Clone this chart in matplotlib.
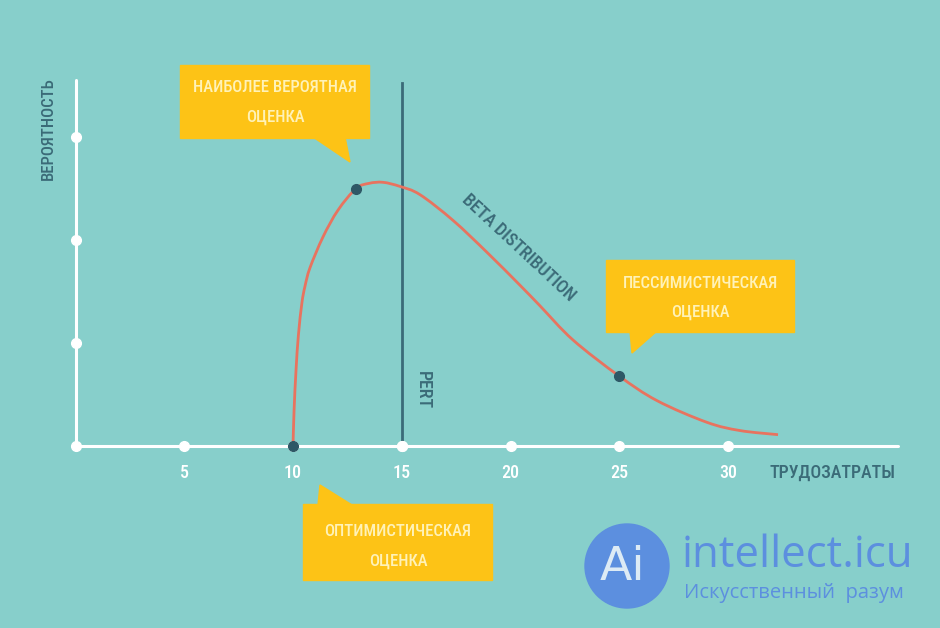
import matplotlib
matplotlib.use("Agg")
import matplotlib.pyplot as plt
from matplotlib.patches import Polygon, Circle, PathPatch
from matplotlib.path import Path
from matplotlib.transforms import IdentityTransform
from matplotlib import font_manager

# data
curve_x = [10.0, 10.05, 10.14, 10.25, 10.41, 10.55, 10.78, 11.38, 12.07, 12.9, 13.5, 14.14,
           14.92, 15.84, 17.36, 18.92, 20.44, 21.36, 22.87, 24.99, 26.74, 29.03, 30.55, 32.3]
curve_y = [0.0, 0.35, 0.74, 1.08, 1.39, 1.55, 1.73, 2.03, 2.29, 2.50, 2.55, 2.56,
           2.52, 2.44, 2.19, 1.88, 1.56, 1.36, 1.03, 0.68, 0.44, 0.23, 0.15, 0.11]
x_ticks = [5, 10, 15, 20, 25, 30]
y_ticks = [1, 2, 3]
optimistic = (10, 0.0)
most_likely = (12.9, 2.50)
pessimistic = (25, 0.68)
pert_x = 15
pert_top = 3.52

BG = "#87CFCB"
DARK = "#3B6B78"
RED = "#E8735F"
YELLOW = "#FDC316"
CREAM = "#FFF2B8"
BLUE = "#5C8FDF"

names = {f.name for f in font_manager.fontManager.ttflist}
cond = [n for n in ["Liberation Sans Narrow", "Roboto Condensed", "DejaVu Sans Condensed"] if n in names]
FAM = cond + ["Roboto", "DejaVu Sans"]

W, H = 940, 628
fig = plt.figure(figsize=(W / 100, H / 100), dpi=100, facecolor=BG)
ax = fig.add_axes([0, 0, 1, 1])
ax.set_facecolor(BG)
ax.set_xlim(-75.5 / 21.75, (W - 75.5) / 21.75)
ax.set_ylim(-(H - 446) / 103, 446 / 103)
ax.axis("off")


def fp(px, py):
    return px / W, 1 - py / H


# axes
ax.plot([0, 37.8], [0, 0], color="white", lw=2.2, solid_capstyle="round", zorder=2)
ax.plot([0, 0], [0, 3.55], color="white", lw=2.2, solid_capstyle="round", zorder=2)
ax.plot([0] * (len(y_ticks) + 1), [0] + y_ticks, "o", color="white", ms=7, zorder=3)
ax.plot(x_ticks, [0] * len(x_ticks), "o", color="white", ms=7, zorder=3)
for t in x_ticks:
    ax.text(t, -0.26, str(t), color="white", fontsize=13, ha="center", va="center",
            family=FAM, weight="medium")
ax.text(34.8, -0.26, "ТРУДОЗАТРАТЫ", color=DARK, fontsize=13, ha="center", va="center",
        family=FAM, weight="medium")
ax.text(-1.25, 3.08, "ВЕРОЯТНОСТЬ", color=DARK, fontsize=12, rotation=90,
        ha="center", va="center", family=FAM, weight="medium")

# PERT line
ax.plot([pert_x, pert_x], [0, pert_top], color=DARK, lw=2.0, zorder=2)
ax.plot([pert_x], [0], "o", color="white", ms=7, zorder=3)
ax.text(pert_x + 0.97, 0.54, "PERT", color=DARK, fontsize=13, rotation=-90,
        ha="center", va="center", family=FAM, weight="medium")

# beta curve, drawn as a smooth Catmull-Rom path through the read points
pts = list(zip(curve_x, curve_y))
verts = [pts[0]]
codes = [Path.MOVETO]
for i in range(len(pts) - 1):
    p0 = pts[max(i - 1, 0)]
    p1 = pts[i]
    p2 = pts[i + 1]
    p3 = pts[min(i + 2, len(pts) - 1)]
    c1 = (p1[0] + (p2[0] - p0[0]) / 6, p1[1] + (p2[1] - p0[1]) / 6)
    c2 = (p2[0] - (p3[0] - p1[0]) / 6, p2[1] - (p3[1] - p1[1]) / 6)
    verts += [c1, c2, p2]
    codes += [Path.CURVE4] * 3
ax.add_patch(PathPatch(Path(verts, codes), facecolor="none", edgecolor=RED, lw=2.0,
                       zorder=4))
for p in (optimistic, most_likely, pessimistic):
    ax.plot(*p, "o", color="#2E5866", ms=7, zorder=5)
ax.text(20.35, 1.92, "BETA DISTRIBUTION", color=DARK, fontsize=13, rotation=-43,
        ha="center", va="center", family=FAM, rotation_mode="anchor", weight="medium")


def callout(box, tail, lines, center):
    x0, y0, x1, y1 = box
    fig.add_artist(Polygon([fp(x0, y0), fp(x1, y0), fp(x1, y1), fp(x0, y1)],
                           closed=True, transform=fig.transFigure, color=YELLOW, zorder=6))
    fig.add_artist(Polygon([fp(*q) for q in tail], closed=True,
                           transform=fig.transFigure, color=YELLOW, zorder=6))
    cx, cy = center
    for i, s in enumerate(lines):
        fig.text(*fp(cx, cy + 29 * i), s, color=CREAM, fontsize=12, ha="center",
                 va="center", family=FAM, zorder=7, weight="medium")


callout((180, 65, 369, 138), [(313, 137), (345, 137), (350, 162)],
        ["НАИБОЛЕЕ ВЕРОЯТНАЯ", "ОЦЕНКА"], (275, 88))
callout((606, 260, 794, 332), [(630, 331), (657, 331), (632, 353)],
        ["ПЕССИМИСТИЧЕСКАЯ", "ОЦЕНКА"], (700, 283))
callout((303, 504, 492, 580), [(318, 505), (352, 505), (320, 485)],
        ["ОПТИМИСТИЧЕСКАЯ", "ОЦЕНКА"], (398, 532))

# watermark
fig.add_artist(Circle((627, H - 566), 42, transform=IdentityTransform(), color=BLUE,
                      zorder=6))
fig.text(*fp(622, 568), "Ai", color="#DDEBF5", fontsize=34, ha="center", va="center",
         family=["DejaVu Sans"], zorder=7)
fig.text(*fp(682, 556), "intellect.icu", color=BLUE, fontsize=31.5, ha="left",
         va="center", family=["Open Sans", "DejaVu Sans"], zorder=7)
fig.text(*fp(684, 593), "Искусственный  разум", color=BLUE, fontsize=14.5, ha="left",
         va="center", family=["Open Sans", "DejaVu Sans"], zorder=7)

fig.savefig("out.png", dpi=100, facecolor=BG)
